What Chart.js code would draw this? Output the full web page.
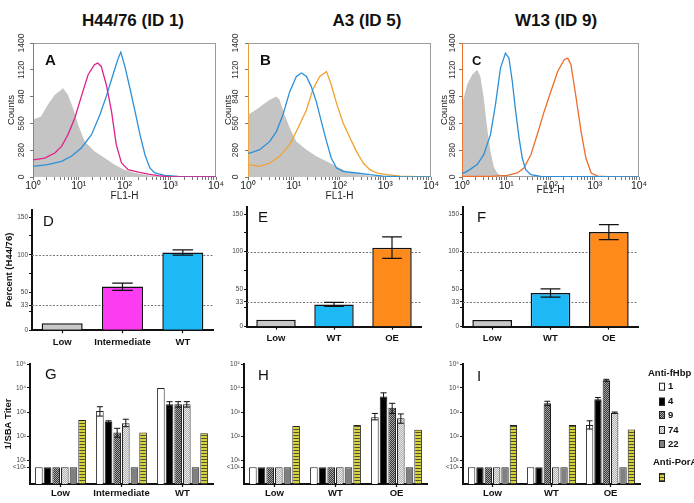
<!DOCTYPE html>
<html>
<head>
<meta charset="utf-8">
<script src="https://cdn.jsdelivr.net/npm/chart.js@4.4.0/dist/chart.umd.min.js"></script>
<style>
  body { margin: 0; background: #fff; width: 694px; height: 503px; overflow: hidden; position: relative;
         font-family: "Liberation Sans", Arial, sans-serif; }
  canvas { position: absolute; }
  .ttl { position: absolute; top: 11px; line-height: 20px; font-size: 17px; font-weight: bold; color: #111;
         transform: translateX(-50%); white-space: nowrap; }
</style>
</head>
<body>
<div class="ttl" style="left:133px">H44/76 (ID 1)</div>
<div class="ttl" style="left:367px">A3 (ID 5)</div>
<div class="ttl" style="left:556px">W13 (ID 9)</div>

<canvas id="cA" width="230" height="180" style="left:0;top:30px"></canvas>
<canvas id="cB" width="220" height="180" style="left:222px;top:30px"></canvas>
<canvas id="cC" width="210" height="180" style="left:440px;top:30px"></canvas>

<canvas id="cD" width="230" height="160" style="left:0;top:200px"></canvas>
<canvas id="cE" width="220" height="160" style="left:222px;top:200px"></canvas>
<canvas id="cF" width="210" height="160" style="left:440px;top:200px"></canvas>

<canvas id="cG" width="230" height="148" style="left:0;top:355px"></canvas>
<canvas id="cH" width="220" height="148" style="left:222px;top:355px"></canvas>
<canvas id="cI" width="254" height="148" style="left:440px;top:355px"></canvas>

<script>
const FONT = '"Liberation Sans", Arial, sans-serif';
Chart.defaults.font.family = FONT;

// ---- A-C : flow cytometry histograms, [FL1-H, counts]
const flDecades = [1, 10, 100, 1000, 10000];
const flLabels = ['10⁰', '10¹', '10²', '10³', '10⁴'];
const countTicks = [0, 280, 560, 840, 1120, 1400];

const aControl = [[1,600],[1.5,633],[2.1,755],[3,860],[4.2,912],[4.5,930],[5.8,860],[7.5,720],[9.7,546],[13.5,372],[22,268],[37,198],[61,129],[100,77],[170,42],[330,17],[650,7],[1500,0],[10000,0]];
const aIntermediate = [[1,181],[1.1,181],[1.8,198],[3,250],[4.2,320],[5.8,442],[8.2,616],[11.4,842],[16,1068],[22,1173],[26,1190],[31,1155],[40,964],[52,685],[66,338],[86,146],[120,77],[200,52],[330,31],[550,14],[900,3],[10000,0]];
const aWT = [[1,0],[1,1400],[1.02,111],[2.1,129],[4.2,164],[6.9,216],[11.4,303],[19,442],[29,650],[40,842],[56,1068],[73,1242],[83,1305],[102,1155],[131,930],[170,685],[218,442],[280,233],[357,94],[460,42],[760,17],[1500,7],[3500,3],[10000,0]];

const bControl = [[1,650],[1.5,703],[2.1,755],[3,807],[4.2,842],[4.9,807],[6.3,650],[8.2,511],[11.4,372],[19,285],[31,216],[52,164],[86,111],[142,59],[235,31],[460,14],[900,3],[10000,0]];
const bWT = [[1,250],[1.1,250],[1.8,285],[3,372],[4.2,477],[5.8,650],[8.2,894],[11.4,1051],[14.7,1086],[19,1051],[24,947],[31,790],[40,581],[52,372],[66,198],[86,94],[120,59],[235,42],[460,24],[900,10],[2100,3],[10000,0]];
const bOE = [[1,0],[1,1400],[1.02,129],[1.8,111],[3,146],[4.9,216],[8.2,338],[12.4,511],[19,703],[26,912],[37,1051],[52,1103],[66,964],[86,772],[120,564],[170,407],[235,268],[330,146],[460,77],[650,42],[1070,24],[2100,10],[4900,3],[10000,0]];

const cControl = [[1,755],[1.3,964],[1.7,1068],[2.2,1120],[2.6,1051],[3.1,825],[3.7,511],[4.4,268],[5.2,111],[6.2,42],[8.1,7],[9.6,0],[10000,0]];
const cWT = [[1,42],[1.1,42],[1.5,77],[2.2,129],[3.1,233],[4.4,442],[5.7,755],[7.4,1138],[9.6,1294],[11.5,1242],[13.7,999],[16.3,685],[19.5,407],[23,198],[27.5,77],[36,24],[60,7],[10000,0]];
const cOE = [[1,0],[1,1400],[1.03,10],[4.4,7],[10.5,17],[17.8,42],[25,94],[36,233],[50,442],[72,685],[102,894],[145,1103],[204,1225],[245,1242],[290,1173],[380,825],[490,477],[630,198],[830,42],[1170,10],[2000,3],[10000,0]];

// ---- D-F : percent of H44/76 binding
const pctTicks = [0, 25, 33, 50, 75, 100, 125, 150];
const pctLabels = [0, 33, 50, 100, 150];
const refLines = [100, 33];

const catsD = ['Low', 'Intermediate', 'WT'];
const pctD = [9.3, 58, 103];
const errD = [null, [53, 62.5], [99.5, 106.5]];

const catsEF = ['Low', 'WT', 'OE'];
const pctE = [9.3, 29.7, 105];
const errE = [null, [27, 32.4], [91, 119.5]];
const pctF = [9, 44.7, 126];
const errF = [null, [39.4, 50.4], [116, 136]];

// ---- G-I : 1/SBA titers (5 = "<10^1")
const sbaTicks = [5, 10, 100, 1000, 10000, 100000];
const sbaLabels = ['<10¹', '10¹', '10²', '10³', '10⁴', '10⁵'];
const fhbpIds = ['1', '4', '9', '74', '22'];
const legendTitles = ['Anti-fHbp', 'Anti-PorA'];

const g1 = [5, 1100, 10000],  g1Err = [null, [676, 1660], null];
const g4 = [5, 400, 2100],    g4Err = [null, [370, 430], [1410, 2690]];
const g9 = [5, 140, 2100],    g9Err = [null, [89, 209], [1600, 2700]];
const g74 = [5, 340, 2100],   g74Err = [null, [245, 500], [1600, 2700]];
const g22 = [5, 5, 5];
const gPorA = [460, 140, 130];

const h1 = [5, 5, 600],   h1Err = [null, null, [470, 870]];
const h4 = [5, 5, 4400],  h4Err = [null, null, [3200, 6300]];
const h9 = [5, 5, 1500],  h9Err = [null, null, [870, 2300]];
const h74 = [5, 5, 550],  h74Err = [null, null, [340, 830]];
const h22 = [5, 5, 5];
const hPorA = [260, 290, 180];

const i1 = [5, 5, 290],      i1Err = [null, null, [195, 430]];
const i4 = [5, 5, 3400],     i4Err = [null, null, [2700, 4000]];
const i9 = [5, 2300, 21000], i9Err = [null, [1900, 2800], [19000, 23000]];
const i74 = [5, 5, 940],     i74Err = [null, null, [880, 1000]];
const i22 = [5, 5, 5];
const iPorA = [290, 290, 185];

// fill patterns
function tile(w, h, draw) {
  const c = document.createElement('canvas');
  c.width = w; c.height = h;
  const x = c.getContext('2d');
  draw(x);
  return x.createPattern(c, 'repeat');
}
const fill9 = tile(2, 2, x => {
  x.fillStyle = '#a4a4a4'; x.fillRect(0, 0, 2, 2);
  x.fillStyle = '#383838'; x.fillRect(0, 0, 1, 1); x.fillRect(1, 1, 1, 1);
});
const fill74 = tile(2, 2, x => {
  x.fillStyle = '#ececec'; x.fillRect(0, 0, 2, 2);
  x.fillStyle = '#b0b0b0'; x.fillRect(0, 0, 1, 1); x.fillRect(1, 1, 1, 1);
});
const fillPorA = tile(1, 3, x => {
  x.fillStyle = '#d6d43a'; x.fillRect(0, 0, 1, 2);
  x.fillStyle = '#50502c'; x.fillRect(0, 2, 1, 1);
});
const barFills = ['#ffffff', '#000000', fill9, fill74, '#808080', fillPorA];

// extra drawing: plot box, dashed refs, error bars, rotated labels, letters, legend
const decoCfg = {};
const deco = {
  id: 'deco',
  beforeDatasetsDraw(chart) {
    const o = decoCfg[chart.canvas.id] || {};
    const ctx = chart.ctx, a = chart.chartArea;
    ctx.save();
    if (o.box) {
      ctx.strokeStyle = '#9c9c9c'; ctx.lineWidth = 1;
      ctx.strokeRect(a.left + 0.5, a.top + 0.5, a.right - a.left - 1, a.bottom - a.top - 1);
    }
    if (o.refLines) {
      const y = chart.scales.y;
      ctx.strokeStyle = '#7a7a7a'; ctx.lineWidth = 1; ctx.setLineDash([2, 1.5]);
      o.refLines.forEach(v => {
        const py = Math.round(y.getPixelForValue(v)) + 0.5;
        ctx.beginPath(); ctx.moveTo(a.left, py); ctx.lineTo(a.right, py); ctx.stroke();
      });
    }
    ctx.restore();
  },
  afterDraw(chart) {
    const o = decoCfg[chart.canvas.id] || {};
    const ctx = chart.ctx, a = chart.chartArea, y = chart.scales.y;
    ctx.save();
    chart.data.datasets.forEach((ds, i) => {
      if (!ds.err) return;
      chart.getDatasetMeta(i).data.forEach((bar, j) => {
        const e = ds.err[j];
        if (!e) return;
        const top = y.getPixelForValue(e[1]), bot = y.getPixelForValue(e[0]);
        const half = bar.width * o.cap;
        ctx.strokeStyle = '#111'; ctx.lineWidth = o.errW;
        ctx.beginPath();
        ctx.moveTo(bar.x, top); ctx.lineTo(bar.x, bot);
        ctx.moveTo(bar.x - half, top); ctx.lineTo(bar.x + half, top);
        ctx.moveTo(bar.x - half, bot); ctx.lineTo(bar.x + half, bot);
        ctx.stroke();
      });
    });
    if (o.rot) {
      ctx.fillStyle = '#333'; ctx.textAlign = 'center'; ctx.textBaseline = 'middle';
      ctx.font = '8.5px ' + FONT;
      countTicks.forEach(v => {
        ctx.save();
        ctx.translate(a.left + o.rot.tick, y.getPixelForValue(v));
        ctx.rotate(-Math.PI / 2);
        ctx.fillText(String(v), 0, 0);
        ctx.restore();
      });
      ctx.font = '9.5px ' + FONT; ctx.fillStyle = '#222';
      ctx.save();
      ctx.translate(a.left + o.rot.title, (a.top + a.bottom) / 2);
      ctx.rotate(-Math.PI / 2);
      ctx.fillText('Counts', 0, 0);
      ctx.restore();
    }
    (o.texts || []).forEach(t => {
      ctx.font = t.font; ctx.fillStyle = '#111'; ctx.textAlign = 'left'; ctx.textBaseline = 'middle';
      ctx.fillText(t.text, t.x, t.y);
    });
    if (o.legend) drawLegend(ctx);
    ctx.restore();
  }
};
Chart.register(deco);

function drawLegend(ctx) {
  ctx.font = 'bold 9.5px ' + FONT; ctx.textAlign = 'left'; ctx.textBaseline = 'middle';
  ctx.fillStyle = '#111';
  ctx.fillText(legendTitles[0], 208, 18);
  const ys = [31.7, 46.7, 60, 75, 89];
  ctx.strokeStyle = '#222'; ctx.lineWidth = 1;
  fhbpIds.forEach((id, k) => {
    ctx.fillStyle = barFills[k]; ctx.fillRect(219, ys[k] - 4, 6, 8);
    ctx.strokeRect(219.5, ys[k] - 3.5, 5, 7);
    ctx.fillStyle = '#111'; ctx.fillText(id, 228, ys[k]);
  });
  ctx.fillText(legendTitles[1], 213, 107);
  ctx.fillStyle = barFills[5]; ctx.fillRect(219, 118, 6, 9);
  ctx.strokeRect(219.5, 118.5, 5, 8);
}

const flTicks = [];
flDecades.forEach(d => {
  flTicks.push(d);
  if (d < 10000) [2, 3, 4, 5, 6, 7, 8, 9].forEach(m => flTicks.push(d * m));
});

function hist(id, curves, L) {
  decoCfg[id] = { box: true, rot: L.rot, texts: L.texts };
  return new Chart(document.getElementById(id), {
    type: 'line',
    data: {
      datasets: curves.map(c => ({
        data: c.pts.map(p => ({ x: p[0], y: p[1] })),
        borderColor: c.color,
        backgroundColor: c.fill || 'transparent',
        fill: c.fill ? 'origin' : false,
        borderWidth: c.fill ? 0 : 1.3,
        pointRadius: 0, tension: 0
      }))
    },
    options: {
      responsive: false, animation: false, events: [],
      layout: { padding: { top: 13, right: L.right, left: 0, bottom: 0 } },
      plugins: { legend: { display: false }, tooltip: { enabled: false } },
      scales: {
        x: {
          type: 'logarithmic', min: 1, max: 10000,
          afterBuildTicks: s => { s.ticks = flTicks.map(v => ({ value: v })); },
          ticks: {
            autoSkip: false, maxRotation: 0, padding: 0, color: '#222', font: { size: 10.5 },
            callback: v => { const k = flDecades.indexOf(v); return k < 0 ? '' : flLabels[k]; }
          },
          grid: { drawOnChartArea: false, tickLength: 3, color: '#777' },
          border: { display: false },
          title: { display: true, text: 'FL1-H', color: '#222', font: { size: 10 }, padding: { top: 0, bottom: L.titleBottom } },
          afterFit: s => { s.height = 33; s.paddingLeft = 0; s.paddingRight = 0; }
        },
        y: {
          min: 0, max: 1400,
          afterBuildTicks: s => { s.ticks = countTicks.map(v => ({ value: v })); },
          ticks: { display: false },
          grid: { drawOnChartArea: false, tickLength: 3, color: '#777' },
          border: { display: false },
          afterFit: s => { s.width = L.yw; s.paddingTop = 0; s.paddingBottom = 0; }
        }
      }
    }
  });
}

const GRAY = '#c4c4c4', MAGENTA = '#e0218a', BLUE = '#2b90d9', AMBER = '#f2a22c', ORANGE = '#ec6e2a';

hist('cA', [
  { pts: aIntermediate, color: MAGENTA },
  { pts: aWT, color: BLUE },
  { pts: aControl, color: GRAY, fill: GRAY }
], { yw: 33, right: 14, titleBottom: 8, rot: { tick: -11, title: -22 },
     texts: [{ text: 'A', x: 45, y: 31, font: 'bold 15px ' + FONT }] });

hist('cB', [
  { pts: bWT, color: BLUE },
  { pts: bOE, color: AMBER },
  { pts: bControl, color: GRAY, fill: GRAY }
], { yw: 26, right: 11, titleBottom: 8, rot: { tick: -12, title: -20 },
     texts: [{ text: 'B', x: 38, y: 31, font: 'bold 15px ' + FONT }] });

hist('cC', [
  { pts: cWT, color: BLUE },
  { pts: cOE, color: ORANGE },
  { pts: cControl, color: GRAY, fill: GRAY }
], { yw: 22, right: 11, titleBottom: 14, rot: { tick: -9, title: -18 },
     texts: [{ text: 'C', x: 32, y: 31, font: 'bold 13px ' + FONT }] });

const LOW = '#c8c8c8', PINK = '#fb3cf0', CYAN = '#1db8f6', OEC = '#ff8a1c';

function pct(id, cats, vals, err, colors, L) {
  decoCfg[id] = { refLines: refLines, cap: 0.25, errW: 1.2, texts: L.texts };
  return new Chart(document.getElementById(id), {
    type: 'bar',
    data: { labels: cats, datasets: [{ data: vals, err: err, backgroundColor: colors, borderColor: '#111',
            borderWidth: 1.5, barPercentage: 0.68, categoryPercentage: 1 }] },
    options: {
      responsive: false, animation: false, events: [],
      layout: { padding: { top: L.top, right: L.right, left: 0, bottom: 0 } },
      plugins: { legend: { display: false }, tooltip: { enabled: false } },
      scales: {
        x: {
          grid: { offset: false, drawOnChartArea: false, tickLength: 3, color: '#111', tickWidth: 1.2 },
          border: { color: '#111', width: 2 },
          ticks: { autoSkip: false, maxRotation: 0, padding: L.xpad, color: '#111', font: { size: 9.5, weight: 'bold' } },
          afterFit: s => { s.height = L.xh; s.paddingLeft = 0; s.paddingRight = 0; }
        },
        y: {
          min: 0, max: 160,
          afterBuildTicks: s => { s.ticks = pctTicks.map(v => ({ value: v })); },
          ticks: { padding: 1, color: '#444', font: { size: 6.5 },
                   callback: v => pctLabels.includes(v) ? String(v) : '' },
          grid: { drawOnChartArea: false, tickLength: 3, color: '#111' },
          border: { color: '#111', width: 2 },
          title: L.ytitle ? { display: true, text: L.ytitle, color: '#111', font: { size: 9.5, weight: 'bold' },
                              padding: { top: 4, bottom: 0 } } : { display: false },
          afterFit: s => { s.width = L.yw; s.paddingTop = 0; s.paddingBottom = 0; }
        }
      }
    }
  });
}

pct('cD', catsD, pctD, errD, [LOW, PINK, CYAN],
    { yw: 32, right: 17, top: 9.5, xh: 29.7, xpad: 3, ytitle: 'Percent (H44/76)',
      texts: [{ text: 'D', x: 43, y: 22, font: '15px ' + FONT }] });
pct('cE', catsEF, pctE, errE, [LOW, CYAN, OEC],
    { yw: 25, right: 21, top: 6.5, xh: 33.3, xpad: 2.5,
      texts: [{ text: 'E', x: 36, y: 17.5, font: '15px ' + FONT }] });
pct('cF', catsEF, pctF, errF, [LOW, CYAN, OEC],
    { yw: 23, right: 12, top: 6.5, xh: 33.3, xpad: 2.5,
      texts: [{ text: 'F', x: 37, y: 17.5, font: '15px ' + FONT }] });

function sba(id, cats, series, L) {
  decoCfg[id] = { cap: 0.4, errW: 1, texts: L.texts, legend: L.legend };
  return new Chart(document.getElementById(id), {
    type: 'bar',
    data: {
      labels: cats,
      datasets: series.map((s, k) => ({
        data: s[0], err: s[1] || null, backgroundColor: barFills[k], borderColor: '#222', borderWidth: 1,
        barPercentage: 0.88, categoryPercentage: 0.85
      }))
    },
    options: {
      responsive: false, animation: false, events: [],
      layout: { padding: { top: 9, right: L.right, left: 0, bottom: 0 } },
      plugins: { legend: { display: false }, tooltip: { enabled: false } },
      scales: {
        x: {
          grid: { offset: false, drawOnChartArea: false, tickLength: 3, color: '#111', tickWidth: 1.2 },
          border: { color: '#111', width: 2 },
          ticks: { autoSkip: false, maxRotation: 0, padding: 1, color: '#111', font: { size: 9.5, weight: 'bold' } },
          afterFit: s => { s.height = 19; s.paddingLeft = 0; s.paddingRight = 0; }
        },
        y: {
          type: 'logarithmic', min: 1, max: 100000,
          afterBuildTicks: s => { s.ticks = sbaTicks.map(v => ({ value: v })); },
          ticks: { padding: 1, color: '#444', font: { size: 6.5 },
                   callback: v => { const k = sbaTicks.indexOf(v); return k < 0 ? '' : sbaLabels[k]; } },
          grid: { drawOnChartArea: false, tickLength: 3, color: '#111' },
          border: { color: '#111', width: 2 },
          title: L.ytitle ? { display: true, text: L.ytitle, color: '#111', font: { size: 9.5, weight: 'bold' },
                              padding: { top: 2.5, bottom: 0 } } : { display: false },
          afterFit: s => { s.width = L.yw; s.paddingTop = 0; s.paddingBottom = 0; }
        }
      }
    }
  });
}

sba('cG', catsD, [[g1, g1Err], [g4, g4Err], [g9, g9Err], [g74, g74Err], [g22], [gPorA]],
    { yw: 30, right: 17, ytitle: '1/SBA Titer', texts: [{ text: 'G', x: 45, y: 20, font: '15px ' + FONT }] });
sba('cH', catsEF, [[h1, h1Err], [h4, h4Err], [h9, h9Err], [h74, h74Err], [h22], [hPorA]],
    { yw: 22, right: 15, texts: [{ text: 'H', x: 36, y: 21, font: '15px ' + FONT }] });
sba('cI', catsEF, [[i1, i1Err], [i4, i4Err], [i9, i9Err], [i74, i74Err], [i22], [iPorA]],
    { yw: 23, right: 54, legend: true, texts: [{ text: 'I', x: 37, y: 22, font: '15px ' + FONT }] });
</script>
</body>
</html>
